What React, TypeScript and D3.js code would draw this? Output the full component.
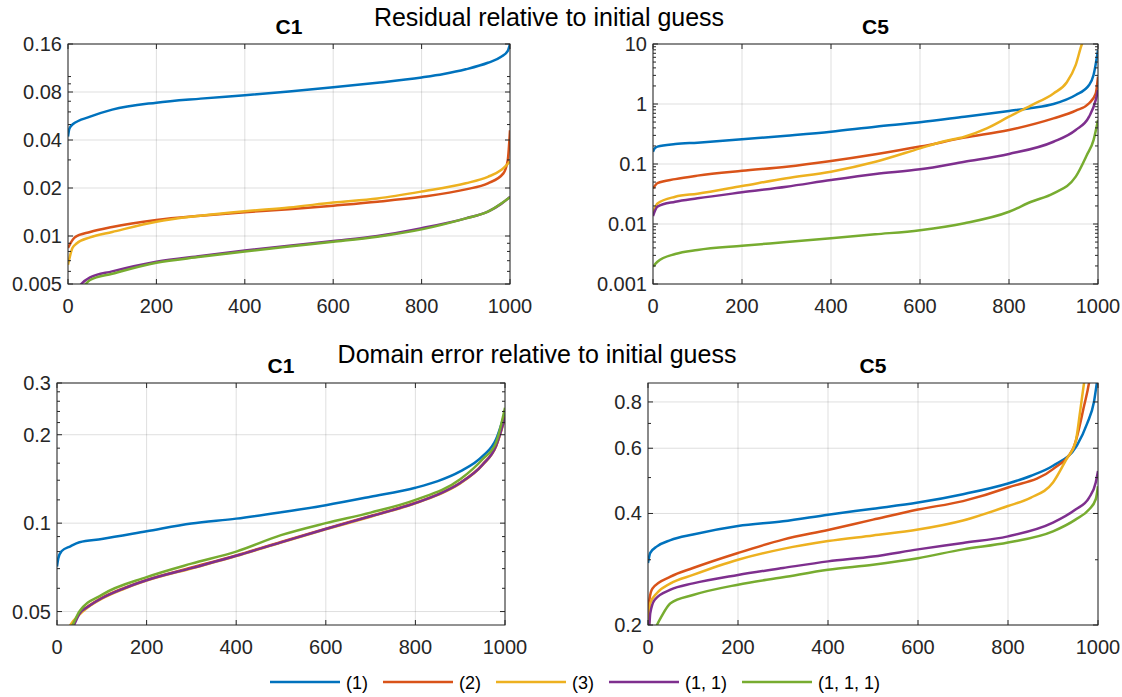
import React from "react";
import * as d3 from "d3";

// ---- data ----
const SERIES_NAMES = ["(1)", "(2)", "(3)", "(1, 1)", "(1, 1, 1)"];
const COLORS = ["#0072BD", "#D95319", "#EDB120", "#7E2F8E", "#77AC30"];
const X_TICKS = [0, 200, 400, 600, 800, 1000];

// Residual, C1
const resC1_1 = [[0, 0.042], [3, 0.047], [10, 0.05], [50, 0.056], [100, 0.062], [200, 0.0686], [300, 0.0727], [400, 0.0764], [500, 0.0806], [600, 0.0856], [700, 0.0914], [800, 0.0987], [850, 0.1037], [900, 0.111], [950, 0.122], [980, 0.133], [995, 0.145], [1000, 0.16]];
const resC1_2 = [[0, 0.0084], [15, 0.0098], [50, 0.0106], [100, 0.0114], [200, 0.0126], [300, 0.0134], [400, 0.0141], [500, 0.0147], [600, 0.0155], [700, 0.0164], [800, 0.0176], [900, 0.0196], [950, 0.0214], [985, 0.0247], [995, 0.03], [1000, 0.046]];
const resC1_3 = [[0, 0.0066], [10, 0.0084], [20, 0.009], [50, 0.0098], [100, 0.0106], [200, 0.0123], [300, 0.0134], [400, 0.0143], [500, 0.0151], [600, 0.0162], [700, 0.0172], [800, 0.019], [900, 0.0214], [950, 0.0235], [980, 0.0259], [1000, 0.0293]];
const resC1_4 = [[0, 0.0036], [30, 0.005], [50, 0.0055], [100, 0.006], [200, 0.0069], [300, 0.0075], [400, 0.0081], [500, 0.0087], [600, 0.0093], [700, 0.01], [800, 0.0112], [900, 0.0129], [950, 0.0142], [980, 0.0159], [1000, 0.0176]];
const resC1_5 = [[0, 0.0034], [40, 0.005], [50, 0.0053], [100, 0.0058], [200, 0.0068], [300, 0.0074], [400, 0.008], [500, 0.0086], [600, 0.0092], [700, 0.0099], [800, 0.011], [900, 0.0129], [950, 0.0142], [1000, 0.0175]];

// Residual, C5
const resC5_1 = [[0, 0.16], [3, 0.18], [10, 0.195], [50, 0.215], [100, 0.227], [200, 0.258], [300, 0.297], [400, 0.346], [500, 0.419], [600, 0.495], [700, 0.615], [800, 0.765], [850, 0.857], [900, 1.0], [950, 1.41], [980, 2.07], [990, 3.04], [1000, 7.9]];
const resC5_2 = [[0, 0.039], [10, 0.048], [50, 0.056], [100, 0.064], [200, 0.077], [300, 0.09], [400, 0.112], [500, 0.145], [600, 0.195], [700, 0.275], [800, 0.369], [900, 0.577], [950, 0.775], [980, 1.03], [995, 1.5], [1000, 2.85]];
const resC5_3 = [[0, 0.0154], [10, 0.022], [50, 0.0285], [100, 0.032], [200, 0.043], [300, 0.058], [400, 0.0745], [500, 0.109], [600, 0.182], [650, 0.235], [700, 0.285], [750, 0.393], [800, 0.615], [850, 0.95], [900, 1.5], [930, 2.3], [950, 4.5], [964, 10], [975, 14]];
const resC5_4 = [[0, 0.0136], [10, 0.0195], [50, 0.0235], [100, 0.0268], [200, 0.0337], [300, 0.0419], [400, 0.054], [500, 0.068], [600, 0.0815], [700, 0.109], [800, 0.147], [900, 0.235], [950, 0.369], [980, 0.615], [995, 1.17], [1000, 1.71]];
const resC5_5 = [[0, 0.00195], [10, 0.00235], [50, 0.00316], [100, 0.0037], [200, 0.00435], [300, 0.005], [400, 0.00577], [500, 0.00673], [600, 0.0079], [700, 0.0103], [800, 0.016], [850, 0.0235], [900, 0.0325], [950, 0.0615], [975, 0.141], [990, 0.25], [1000, 0.54]];

// Domain error, C1
const domC1_1 = [[0, 0.0712], [3, 0.076], [10, 0.0802], [30, 0.0834], [50, 0.0861], [100, 0.0883], [200, 0.0938], [300, 0.0997], [400, 0.1036], [500, 0.1089], [600, 0.1151], [700, 0.123], [800, 0.132], [850, 0.139], [900, 0.15], [950, 0.169], [980, 0.193], [1000, 0.238]];
const domC1_2 = [[0, 0.035], [35, 0.045], [50, 0.0493], [70, 0.0522], [100, 0.0557], [150, 0.0602], [200, 0.0641], [300, 0.0706], [400, 0.0777], [500, 0.0863], [600, 0.0958], [700, 0.1058], [800, 0.1173], [850, 0.1253], [900, 0.1372], [950, 0.1585], [980, 0.1835], [1000, 0.231]];
const domC1_3 = [[0, 0.035], [30, 0.045], [50, 0.0488], [70, 0.0518], [100, 0.0553], [150, 0.0598], [200, 0.0637], [300, 0.0701], [400, 0.0772], [500, 0.0858], [600, 0.0952], [700, 0.1052], [800, 0.1168], [850, 0.1247], [900, 0.1366], [950, 0.1578], [980, 0.1825], [1000, 0.228]];
const domC1_4 = [[0, 0.036], [38, 0.045], [50, 0.0491], [70, 0.052], [100, 0.0555], [150, 0.06], [200, 0.0639], [300, 0.0703], [400, 0.0774], [500, 0.086], [600, 0.0955], [700, 0.1055], [800, 0.117], [850, 0.125], [900, 0.137], [950, 0.158], [980, 0.183], [1000, 0.229]];
const domC1_5 = [[0, 0.036], [35, 0.045], [50, 0.05], [100, 0.057], [200, 0.0655], [300, 0.0728], [400, 0.08], [500, 0.091], [600, 0.1], [700, 0.1086], [800, 0.12], [900, 0.141], [950, 0.165], [980, 0.188], [1000, 0.247]];

// Domain error, C5
const domC5_1 = [[0, 0.294], [5, 0.313], [20, 0.326], [50, 0.339], [100, 0.351], [200, 0.37], [300, 0.381], [400, 0.397], [500, 0.412], [600, 0.428], [700, 0.451], [800, 0.482], [850, 0.505], [900, 0.538], [953, 0.61], [976, 0.7], [991, 0.8], [1000, 0.95]];
const domC5_2 = [[0, 0.202], [3, 0.234], [10, 0.251], [50, 0.27], [100, 0.285], [200, 0.313], [300, 0.34], [400, 0.361], [500, 0.385], [600, 0.41], [700, 0.432], [800, 0.47], [900, 0.527], [945, 0.6], [969, 0.78], [980, 0.9], [990, 1.1]];
const domC5_3 = [[0, 0.19], [2, 0.2], [5, 0.229], [20, 0.244], [50, 0.259], [100, 0.273], [200, 0.3], [300, 0.321], [400, 0.337], [500, 0.349], [600, 0.362], [700, 0.383], [800, 0.419], [850, 0.441], [900, 0.485], [930, 0.561], [950, 0.622], [960, 0.75], [969, 0.9], [975, 1.0]];
const domC5_4 = [[0, 0.19], [3, 0.2], [5, 0.215], [15, 0.234], [50, 0.249], [100, 0.259], [200, 0.273], [300, 0.285], [400, 0.297], [500, 0.306], [600, 0.32], [700, 0.333], [800, 0.347], [900, 0.378], [950, 0.41], [980, 0.441], [995, 0.485], [1000, 0.521]];
const domC5_5 = [[0, 0.17], [20, 0.2], [30, 0.211], [50, 0.229], [100, 0.241], [200, 0.257], [300, 0.269], [400, 0.282], [500, 0.291], [600, 0.303], [700, 0.32], [800, 0.334], [900, 0.358], [950, 0.385], [980, 0.41], [995, 0.437], [1000, 0.474]];

const RES_C1_TICKS = [0.005, 0.01, 0.02, 0.04, 0.08, 0.16];
const RES_C5_TICKS = [0.001, 0.01, 0.1, 1, 10];
const DOM_C1_TICKS = [0.05, 0.1, 0.2, 0.3];
const DOM_C5_TICKS = [0.2, 0.4, 0.6, 0.8];
const DOM_C1_MINOR = [0.06, 0.07, 0.08, 0.09, 0.12, 0.14, 0.16, 0.18, 0.22, 0.24, 0.26, 0.28];
const DOM_C5_MINOR = [0.3, 0.5, 0.7];

const FONT = "'Liberation Sans', Arial, Helvetica, sans-serif";
const AX = "#262626";

function logMinor(lo: number, hi: number, majors: number[]) {
  const out: number[] = [];
  for (let k = Math.floor(Math.log10(lo)); k <= Math.ceil(Math.log10(hi)); k++) {
    for (let d = 1; d <= 9; d++) {
      const v = d * Math.pow(10, k);
      if (v < lo * 0.9999 || v > hi * 1.0001) continue;
      if (majors.some((m) => Math.abs(m - v) / v < 1e-6)) continue;
      out.push(v);
    }
  }
  return out;
}

function Panel({ id, box, yDomain, yTicks, yMinor, title, series }) {
  const { x0, x1, y0, y1 } = box;
  const x = d3.scaleLinear().domain([0, 1000]).range([x0, x1]);
  const y = d3.scaleLog().domain(yDomain).range([y1, y0]);
  const line = d3
    .line<number[]>()
    .x((d) => x(d[0]))
    .y((d) => y(d[1]))
    .curve(d3.curveMonotoneX);
  const minor = yMinor ?? logMinor(yDomain[0], yDomain[1], yTicks);
  const tl = 5;
  const mtl = 3;
  return (
    <g>
      <defs>
        <clipPath id={id}>
          <rect x={x0} y={y0} width={x1 - x0} height={y1 - y0} />
        </clipPath>
      </defs>
      <rect x={x0} y={y0} width={x1 - x0} height={y1 - y0} fill="#fff" />
      {/* grid */}
      {X_TICKS.map((t) => (
        <line key={"gx" + t} x1={x(t)} x2={x(t)} y1={y0} y2={y1} stroke={AX} strokeOpacity={0.15} />
      ))}
      {yTicks.map((t) => (
        <line key={"gy" + t} x1={x0} x2={x1} y1={y(t)} y2={y(t)} stroke={AX} strokeOpacity={0.15} />
      ))}
      {/* lines */}
      <g clipPath={`url(#${id})`}>
        {series.map((s, i) => (
          <path key={i} d={line(s) ?? ""} fill="none" stroke={COLORS[i]} strokeWidth={2.5} strokeLinejoin="round" />
        ))}
      </g>
      {/* ticks */}
      {X_TICKS.map((t) => (
        <g key={"tx" + t}>
          <line x1={x(t)} x2={x(t)} y1={y1} y2={y1 - tl} stroke={AX} />
          <line x1={x(t)} x2={x(t)} y1={y0} y2={y0 + tl} stroke={AX} />
          <text x={x(t)} y={y1 + 29} textAnchor="middle" fontSize={20} fill={AX} fontFamily={FONT}>
            {t}
          </text>
        </g>
      ))}
      {yTicks.map((t) => (
        <g key={"ty" + t}>
          <line x1={x0} x2={x0 + tl} y1={y(t)} y2={y(t)} stroke={AX} />
          <line x1={x1} x2={x1 - tl} y1={y(t)} y2={y(t)} stroke={AX} />
          <text x={x0 - 6} y={y(t) + 7} textAnchor="end" fontSize={20} fill={AX} fontFamily={FONT}>
            {String(t)}
          </text>
        </g>
      ))}
      {minor.map((t) => (
        <g key={"my" + t}>
          <line x1={x0} x2={x0 + mtl} y1={y(t)} y2={y(t)} stroke={AX} />
          <line x1={x1} x2={x1 - mtl} y1={y(t)} y2={y(t)} stroke={AX} />
        </g>
      ))}
      <rect x={x0} y={y0} width={x1 - x0} height={y1 - y0} fill="none" stroke={AX} strokeWidth={1} />
      <text x={(x0 + x1) / 2} y={y0 - 10} textAnchor="middle" fontSize={21} fontWeight="bold" fill="#000" fontFamily={FONT}>
        {title}
      </text>
    </g>
  );
}

function Legend({ x, y }) {
  const ctx = document.createElement("canvas").getContext("2d");
  if (ctx) ctx.font = `18px ${FONT}`;
  let cx = x;
  const items = SERIES_NAMES.map((name, i) => {
    const w = ctx ? ctx.measureText(name).width : name.length * 9;
    const item = { name, color: COLORS[i], lx: cx, tx: cx + 76 };
    cx += 76 + w + 15;
    return item;
  });
  return (
    <g>
      {items.map((d) => (
        <g key={d.name}>
          <line x1={d.lx} x2={d.lx + 70} y1={y} y2={y} stroke={d.color} strokeWidth={2.5} />
          <text x={d.tx} y={y + 6.5} fontSize={18} fill="#000" fontFamily={FONT}>
            {d.name}
          </text>
        </g>
      ))}
    </g>
  );
}

export default function App() {
  return (
    <svg width={1122} height={697} style={{ position: "absolute", left: 0, top: 0, background: "#fff" }}>
      <rect width={1122} height={697} fill="#fff" />
      <Panel
        id="p1"
        box={{ x0: 68, x1: 510, y0: 44, y1: 284 }}
        yDomain={[0.005, 0.16]}
        yTicks={RES_C1_TICKS}
        yMinor={null}
        title="C1"
        series={[resC1_1, resC1_2, resC1_3, resC1_4, resC1_5]}
      />
      <Panel
        id="p2"
        box={{ x0: 653, x1: 1098, y0: 44, y1: 284 }}
        yDomain={[0.001, 10]}
        yTicks={RES_C5_TICKS}
        yMinor={null}
        title="C5"
        series={[resC5_1, resC5_2, resC5_3, resC5_4, resC5_5]}
      />
      <Panel
        id="p3"
        box={{ x0: 57, x1: 505, y0: 383, y1: 625 }}
        yDomain={[0.045, 0.3]}
        yTicks={DOM_C1_TICKS}
        yMinor={DOM_C1_MINOR}
        title="C1"
        series={[domC1_1, domC1_2, domC1_3, domC1_4, domC1_5]}
      />
      <Panel
        id="p4"
        box={{ x0: 648, x1: 1098, y0: 383, y1: 625 }}
        yDomain={[0.2, 0.9]}
        yTicks={DOM_C5_TICKS}
        yMinor={DOM_C5_MINOR}
        title="C5"
        series={[domC5_1, domC5_2, domC5_3, domC5_4, domC5_5]}
      />
      <text x={549} y={26} textAnchor="middle" fontSize={25} fill="#000" fontFamily={FONT}>
        Residual relative to initial guess
      </text>
      <text x={537} y={363} textAnchor="middle" fontSize={25} fill="#000" fontFamily={FONT}>
        Domain error relative to initial guess
      </text>
      <Legend x={270} y={682} />
    </svg>
  );
}
